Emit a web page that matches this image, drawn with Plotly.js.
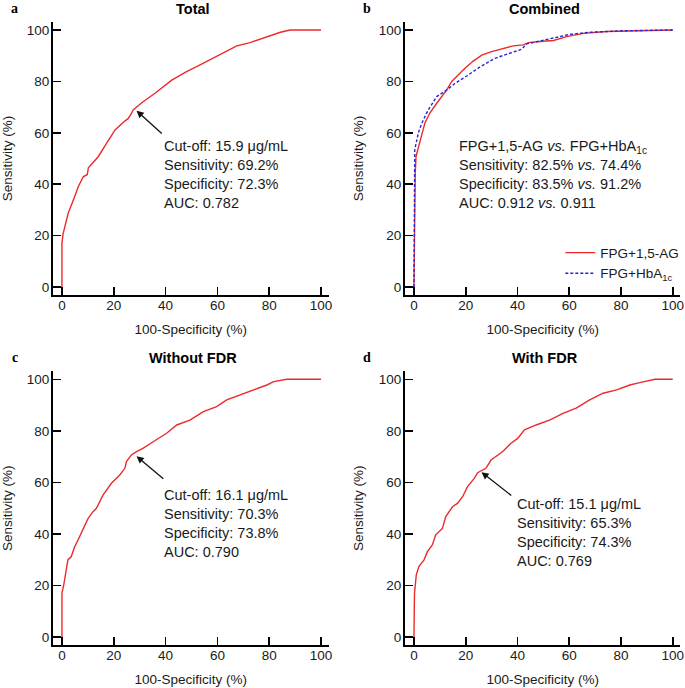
<!DOCTYPE html>
<html>
<head>
<meta charset="utf-8">
<script src="https://cdn.plot.ly/plotly-3.0.1.min.js"></script>
<style>html,body{margin:0;padding:0;background:#fff;}#chart{width:685px;height:688px;}</style>
</head>
<body>
<div id="chart"></div>
<script>
// ---------- data ----------
var tickValues = [0, 20, 40, 60, 80, 100];
var tickLabels = ['0', '20', '40', '60', '80', '100'];
var panelTitles = ['Total', 'Combined', 'Without FDR', 'With FDR'];
var panelLetters = ['a', 'b', 'c', 'd'];
var seriesNames = ['FPG+1,5-AG', 'FPG+HbA<sub>1c</sub>'];

// Panel a: Total
var totalX = [0, 0, 0.4, 1.2, 2.4, 4.4, 6.3, 8.2, 9.8, 10.2, 14, 17.2, 20.5, 23.6, 25.6, 26.6, 27.5, 30.8, 35.9, 42.4, 48.1, 53.3, 58.5, 63.6, 67.5, 72.6, 79.1, 84.3, 88.1, 100];
var totalY = [0, 17, 20.5, 23.5, 28.7, 33.9, 39, 42.9, 43.8, 46.4, 50.7, 55.9, 61.1, 64, 65.6, 67.2, 68.9, 71.7, 75.4, 80.5, 83.8, 86.4, 89, 91.6, 93.8, 95.1, 97.4, 99.1, 100, 100];

// Panel b: Combined
var combAGX = [0, 0.2, 0.5, 0.8, 1.7, 3.2, 4.3, 6.2, 8.8, 10.7, 12.6, 14.6, 17, 19.6, 22.9, 26.2, 30, 34, 38.4, 42.3, 44.2, 48.7, 53.9, 59, 65.5, 74.5, 100];
var combAGY = [0, 30, 44.3, 50.8, 54.7, 60, 64, 67.8, 71.5, 74.1, 76.6, 80, 82.6, 85, 87.9, 90.2, 91.6, 92.7, 93.8, 94.2, 95.1, 95.5, 95.9, 97.4, 98.7, 99.4, 100];
var combHbX = [0, 0.1, 0.3, 1.7, 3, 5.5, 8.8, 12.6, 15.8, 20.4, 25.5, 31.3, 35.8, 41.6, 43.6, 48.7, 55.2, 60.3, 68, 81, 100];
var combHbY = [0, 40, 53.4, 60, 63.7, 68.9, 74.1, 76.6, 79.2, 82.1, 85.6, 89, 90.6, 92.5, 94.6, 95.7, 97.2, 98.3, 99.1, 99.7, 100];

// Panel c: Without FDR
var noFdrX = [0, 0, 0.8, 1.7, 2.3, 3.6, 4.9, 6.2, 8.8, 10.1, 12, 13.3, 15.9, 19.1, 22.3, 24.3, 24.9, 26.8, 28.8, 31.4, 35.2, 40.4, 44.3, 49.4, 54.6, 59.7, 63.6, 68.8, 74, 79.1, 81.7, 86.8, 100];
var noFdrY = [0, 17, 20.9, 26.1, 30, 31.3, 35.1, 37.7, 42.9, 46.1, 48.7, 50, 55.2, 59.7, 62.9, 65.5, 68.1, 70.7, 72, 73.3, 75.8, 79.1, 82.3, 84.2, 87.5, 89.4, 92, 93.9, 95.9, 97.8, 99.1, 100, 100];

// Panel d: With FDR
var fdrX = [0, 0.2, 0.9, 1.9, 3.9, 5.2, 7.1, 8.4, 11, 12.3, 14.9, 16.8, 18.8, 20.7, 23.3, 24.6, 27.8, 29.8, 34.3, 37.5, 40.1, 42.7, 47.2, 52.4, 57.6, 62.7, 67.9, 73.1, 78.3, 83.4, 87.3, 91.8, 93.1, 100];
var fdrY = [0, 17, 24.2, 27.4, 30, 33.2, 35.8, 39.7, 42.2, 46.8, 50.6, 51.9, 54.5, 58.4, 61.6, 63.8, 65.5, 68.7, 72, 75.2, 77.1, 80.4, 82.3, 84.2, 86.8, 88.8, 92, 94.6, 95.9, 97.8, 98.7, 99.7, 100, 100];

// Annotation texts and cut-off arrows (head / tail in data units)
var panelTexts = [
  'Cut-off: 15.9 μg/mL<br>Sensitivity: 69.2%<br>Specificity: 72.3%<br>AUC: 0.782',
  'FPG+1,5-AG <i>vs.</i> FPG+HbA<sub>1c</sub><br>Sensitivity: 82.5% <i>vs.</i> 74.4%<br>Specificity: 83.5% <i>vs.</i> 91.2%<br>AUC: 0.912 <i>vs.</i> 0.911',
  'Cut-off: 16.1 μg/mL<br>Sensitivity: 70.3%<br>Specificity: 73.8%<br>AUC: 0.790',
  'Cut-off: 15.1 μg/mL<br>Sensitivity: 65.3%<br>Specificity: 74.3%<br>AUC: 0.769'
];
var textPosX = [38.5, 16.6, 38.5, 38.9];
var textPosY = [58.9, 58.9, 59.1, 55.7];
var arrowHeadX = [28.8, 28.8, 26.1];
var arrowHeadY = [68.6, 70.2, 64.0];
var arrowTailX = [39.1, 39.7, 38.2];
var arrowTailY = [59.2, 61.0, 54.5];
var arrowPanels = [0, 2, 3];

// ---------- styling ----------
var RED = '#ec2a2a';
var BLUE = '#2424d8';
var FONT = 'Liberation Sans, Arial, sans-serif';
var xRange = [-3.5, 103];
var yRange = [-3.1, 103.1];
var xDomains = [[0.0772, 0.4800], [0.5911, 0.9934], [0.0772, 0.4800], [0.5911, 0.9934]];
var yDomains = [[0.5712, 0.9680], [0.5712, 0.9680], [0.0621, 0.4603], [0.0621, 0.4603]];

function axisIds(i) { return i === 0 ? ['x', 'y'] : ['x' + (i + 1), 'y' + (i + 1)]; }

var traces = [];
function addLine(i, xs, ys, color, dash, name, show) {
  var ids = axisIds(i);
  traces.push({
    x: xs, y: ys, xaxis: ids[0], yaxis: ids[1], type: 'scatter', mode: 'lines',
    line: {color: color, width: 1.4, dash: dash}, name: name, showlegend: show,
    hoverinfo: 'skip'
  });
}
addLine(0, totalX, totalY, RED, 'solid', 'Total', false);
addLine(1, combAGX, combAGY, RED, 'solid', seriesNames[0], true);
addLine(1, combHbX, combHbY, BLUE, '3px,2px', seriesNames[1], true);
addLine(2, noFdrX, noFdrY, RED, 'solid', 'Without FDR', false);
addLine(3, fdrX, fdrY, RED, 'solid', 'With FDR', false);

var layout = {
  width: 685, height: 688,
  margin: {l: 0, r: 0, t: 0, b: 0},
  paper_bgcolor: '#fff', plot_bgcolor: '#fff',
  font: {family: FONT, size: 13, color: '#1a1a1a'},
  showlegend: true,
  legend: {
    x: 0.999, y: 0.655, xanchor: 'right', yanchor: 'top',
    bgcolor: 'rgba(0,0,0,0)', font: {family: FONT, size: 13.5, color: '#1a1a1a'},
    itemwidth: 30, tracegroupgap: 0
  },
  annotations: [],
  shapes: []
};

for (var i = 0; i < 4; i++) {
  var ids = axisIds(i);
  var xk = i === 0 ? 'xaxis' : 'xaxis' + (i + 1);
  var yk = i === 0 ? 'yaxis' : 'yaxis' + (i + 1);
  layout[xk] = {
    domain: xDomains[i], range: xRange, anchor: ids[1],
    showgrid: false, zeroline: false, showline: true, linecolor: '#000', linewidth: 2,
    ticks: 'inside', ticklen: 8, tickwidth: 1.6, tickcolor: '#000',
    tickvals: tickValues, ticktext: tickLabels, ticklabelstandoff: -3,
    tickfont: {family: FONT, size: 13.5, color: '#1a1a1a'},
    title: {text: '100-Specificity (%)', font: {family: FONT, size: 13.5, color: '#1a1a1a'}, standoff: 12},
    fixedrange: true
  };
  layout[yk] = {
    domain: yDomains[i], range: yRange, anchor: ids[0],
    showgrid: false, zeroline: false, showline: true, linecolor: '#000', linewidth: 2,
    ticks: 'inside', ticklen: 8, tickwidth: 1.6, tickcolor: '#000',
    tickvals: tickValues, ticktext: tickLabels, ticklabelstandoff: -1,
    tickfont: {family: FONT, size: 13.5, color: '#1a1a1a'},
    title: {text: 'Sensitivity (%)', font: {family: FONT, size: 13.5, color: '#1a1a1a'}, standoff: 12},
    fixedrange: true
  };
  // panel title
  layout.annotations.push({
    xref: 'paper', yref: 'paper',
    x: (xDomains[i][0] + xDomains[i][1]) / 2 + 0.003, y: yDomains[i][1] + 0.0196,
    xanchor: 'center', yanchor: 'middle', showarrow: false,
    text: '<b>' + panelTitles[i] + '</b>',
    font: {family: FONT, size: 14.5, color: '#000'}
  });
  // panel letter
  layout.annotations.push({
    xref: 'paper', yref: 'paper',
    x: xDomains[i][0] - 0.056, y: yDomains[i][1] + 0.0196,
    xanchor: 'center', yanchor: 'middle', showarrow: false,
    text: '<b>' + panelLetters[i] + '</b>',
    font: {family: 'Liberation Serif, Times New Roman, serif', size: 14, color: '#000'}
  });
  // stats text
  layout.annotations.push({
    xref: ids[0], yref: ids[1], x: textPosX[i], y: textPosY[i],
    xanchor: 'left', yanchor: 'top', align: 'left', showarrow: false,
    text: panelTexts[i], font: {family: FONT, size: 14.5, color: '#1a1a1a'}
  });
}

for (var k = 0; k < arrowPanels.length; k++) {
  var ids2 = axisIds(arrowPanels[k]);
  layout.annotations.push({
    xref: ids2[0], yref: ids2[1], axref: ids2[0], ayref: ids2[1],
    x: arrowHeadX[k], y: arrowHeadY[k], ax: arrowTailX[k], ay: arrowTailY[k],
    text: '', showarrow: true, arrowhead: 2, arrowsize: 1.1, arrowwidth: 1.3, arrowcolor: '#111',
    standoff: 0, startstandoff: 0
  });
}

Plotly.newPlot('chart', traces, layout, {displayModeBar: false, staticPlot: true});
</script>
</body>
</html>
